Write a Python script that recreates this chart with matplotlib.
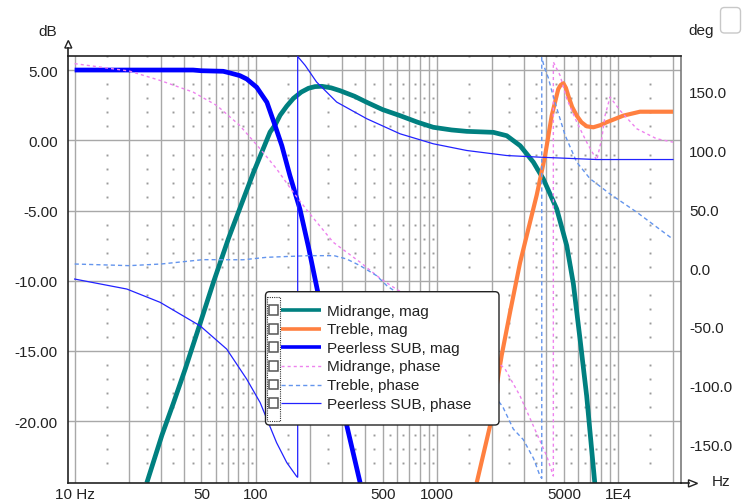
import numpy as np
import matplotlib
matplotlib.use("Agg")
import matplotlib.pyplot as plt
from matplotlib.transforms import Affine2D
from matplotlib.patches import Rectangle, FancyBboxPatch, Polygon
from matplotlib.lines import Line2D

plt.rcParams["font.family"] = ["Liberation Sans", "DejaVu Sans"]
plt.rcParams["axes.unicode_minus"] = False

# ---------------- data ----------------
# Magnitude responses (dB)
mid_mag_f = [25, 30.3, 35.1, 40.7, 48.2, 58.3, 70.5, 78.5, 96.8, 119.7, 127.6, 136, 148, 161,
             178, 195, 212, 231, 260, 291, 350, 409, 500, 624, 780, 952, 1200, 1455, 2042, 2420,
             2868, 3118, 3396, 3850, 4568, 5188, 5640, 6140, 6680, 7430]
mid_mag_db = [-24.4, -21.0, -18.7, -16.3, -13.4, -10.1, -7.0, -5.4, -2.3, 0.6, 1.1, 1.8, 2.45,
              3.0, 3.45, 3.72, 3.84, 3.86, 3.75, 3.55, 3.15, 2.72, 2.2, 1.77, 1.3, 0.94, 0.75,
              0.65, 0.58, 0.34, -0.37, -0.95, -1.55, -2.74, -4.88, -7.5, -10.2, -14.15, -18.2,
              -24.6]

tw_mag_f = [1652, 1960, 2270, 2523, 2867, 3185, 3540, 3936, 4285, 4659, 4800, 4965, 5130, 5290,
            5550, 5888, 6250, 6680, 7270, 8000, 8615, 10640, 13150, 20000]
tw_mag_db = [-24.4, -20.3, -15.3, -12.25, -8.7, -6.3, -3.9, -1.1, 1.77, 3.67, 3.95, 4.08, 3.75,
             3.19, 2.4, 1.77, 1.3, 1.01, 0.94, 1.1, 1.3, 1.77, 2.05, 2.05]

sub_mag_f = [10, 20, 30, 45, 50, 66, 72, 81.6, 89, 101, 115, 127.6, 139, 154, 175, 195, 217, 260,
             317, 376]
sub_mag_db = [5.02, 5.02, 5.02, 5.02, 4.97, 4.93, 4.81, 4.62, 4.38, 3.79, 2.72, 1.05, -0.37, -2.5,
              -4.9, -7.6, -10.5, -15.2, -20.3, -24.4]

# Phase responses (deg), wrapped to +/-180
mid_ph_f = [10, 13.8, 20, 29.6, 45, 60.8, 81.4, 105.5, 130, 160.5, 195, 267, 376, 490, 594, 800,
            1200, 1700, 2370, 2865, 3395, 4022, 4375, 4375, 4764, 5188, 5890, 6680, 7430, 7590,
            8090, 8440, 8990, 10210, 12620, 16230, 20000]
mid_ph_deg = [173.9, 171, 167.6, 159.6, 149.7, 138.3, 121.3, 101.4, 84.4, 64.5, 47.5, 21.9, 4.9,
              -9.4, -17.9, -30, -48, -65, -86, -108.8, -134.4, -160, -177, 175.3, 163.9, 144,
              124.2, 107.1, 94.3, 91.5, 110, 129.8, 145.5, 134, 118.5, 110, 107.1]

tw_ph_f = [10, 20, 30, 51, 85, 114.5, 195, 270, 316, 376, 464, 527, 700, 1000, 1500, 2000, 2300,
           2630, 2985, 3400, 3695, 3776, 3776, 3900, 4100, 4300, 4570, 5077, 5890, 6970, 8990,
           12620, 20000]
tw_ph_deg = [3.4, 2, 3.4, 7.1, 7, 9.1, 10.5, 10.5, 7.7, 2, -6.6, -15, -28, -48, -82, -106, -118,
             -137, -146, -162, -177, -179, 179, 171, 162, 150, 136, 113, 90, 76, 63, 47.5, 24.5]

sub_ph_f = [10, 19.4, 29.6, 49.2, 69, 89, 105.5, 130, 148, 168, 170, 170, 187, 216, 279, 409, 624,
            952, 1455, 2420, 3690, 7590, 20000]
sub_ph_deg = [-9.4, -17.9, -29.2, -49.2, -69, -94.6, -114.5, -148.6, -165.6, -177.5, -178, 180,
              172.4, 158.3, 141.2, 127, 114.2, 105.7, 100, 95.7, 94.3, 92.3, 92.3]

series_names = ["Midrange, mag", "Treble, mag", "Peerless SUB, mag",
                "Midrange, phase", "Treble, phase", "Peerless SUB, phase"]

x_label_ticks = [10, 50, 100, 500, 1000, 5000, 10000]
x_label_text = ["10 Hz", "50", "100", "500", "1000", "5000", "1E4"]
db_ticks = [5, 0, -5, -10, -15, -20]
deg_ticks = [150, 100, 50, 0, -50, -100, -150]

# ---------------- styles ----------------
TEAL = "#008080"
ORANGE = "#ff8040"
BLUE = "#0000ff"
VIOLET = "#ee82ee"
CORNFLOWER = "#6495ed"
SUBPH = "#2222ff"

styles = [
    dict(color=TEAL, lw=3.4, ls="-"),
    dict(color=ORANGE, lw=3.0, ls="-"),
    dict(color=BLUE, lw=3.4, ls="-"),
    dict(color=VIOLET, lw=1.0, ls=(0, (2.2, 2.2))),
    dict(color=CORNFLOWER, lw=1.0, ls=(0, (3, 2.2))),
    dict(color=SUBPH, lw=0.9, ls="-"),
]

W, H, DPI = 744, 502, 100
fig = plt.figure(figsize=(W / DPI, H / DPI), dpi=DPI)
px = Affine2D().scale(1, -1).translate(0, H).scale(1 / W, 1 / H) + fig.transFigure

L, R, T, B = 67.5, 680.7, 57, 484.3
ax = fig.add_axes([L / W, 1 - B / H, (R - L) / W, (B - T) / H])
ax.set_xscale("log")
ax.set_xlim(9.13, 22060)
ax.set_ylim(-24.43, 6.02)

# grid: every 1..9 x decade vertically, every 5 dB horizontally
grid_f = [k * 10 ** n for n in range(1, 5) for k in range(1, 10) if k * 10 ** n <= 20000]
for f in grid_f:
    ax.axvline(f, color="#a8a8a8", lw=1.0, zorder=0.5)
for d in db_ticks:
    ax.axhline(d, color="#a8a8a8", lw=1.0, zorder=0.5)

# dot grid at half-step frequencies and 1 dB levels
dot_f = [(k + 0.5) * 10 ** n for n in range(1, 5) for k in range(1, 10) if (k + 0.5) * 10 ** n <= 20000]
dot_db = [d for d in range(-23, 7) if d % 5 != 0]
DF, DD = np.meshgrid(dot_f, dot_db)
ax.plot(DF.ravel(), DD.ravel(), ls="none", marker="s", ms=1.4, mew=0, color="#9a9a9a", zorder=0.6)

ax.set_xticks(x_label_ticks)
ax.set_xticklabels(x_label_text)
ax.xaxis.set_minor_locator(matplotlib.ticker.NullLocator())
ax.set_yticks(db_ticks)
ax.set_yticklabels([f"{v:.2f}" for v in db_ticks])
ax.tick_params(axis="both", length=0, labelsize=11, colors="#222222")
ax.tick_params(axis="x", pad=3)
ax.tick_params(axis="y", pad=7)

for name, sp in ax.spines.items():
    sp.set_color("#222222" if name != "right" else "#7a7a7a")
    sp.set_linewidth(1.2)

mags = [(mid_mag_f, mid_mag_db), (tw_mag_f, tw_mag_db), (sub_mag_f, sub_mag_db)]
for (f, v), st in zip(mags, styles[:3]):
    ax.plot(f, v, color=st["color"], lw=st["lw"], ls=st["ls"], zorder=2,
            solid_capstyle="butt", solid_joinstyle="round")

ax2 = ax.twinx()
ax2.set_ylim(-183.2, 180.4)
ax2.set_yticks(deg_ticks)
ax2.set_yticklabels([f"{v:.1f}" for v in deg_ticks])
ax2.tick_params(axis="y", length=0, labelsize=11, colors="#222222", pad=6)
for sp in ax2.spines.values():
    sp.set_visible(False)
ax2.patch.set_visible(False)

phases = [(mid_ph_f, mid_ph_deg), (tw_ph_f, tw_ph_deg), (sub_ph_f, sub_ph_deg)]
for (f, v), st in zip(phases, styles[3:]):
    ax2.plot(f, v, color=st["color"], lw=st["lw"], ls=st["ls"], zorder=2)

# axis arrows and unit labels
fig.add_artist(Line2D([L, L], [48.5, T], transform=px, color="#222222", lw=1.2))
fig.add_artist(Polygon([[64.8, 49], [71.8, 49], [68.3, 41.5]], closed=True, transform=px,
                       facecolor="white", edgecolor="#222222", lw=1.0))
fig.add_artist(Line2D([R, 688.5], [B, B], transform=px, color="#222222", lw=1.2))
fig.add_artist(Polygon([[688.5, 480.8], [688.5, 488.0], [697.5, 484.4]], closed=True, transform=px,
                       facecolor="white", edgecolor="#222222", lw=1.0))
fig.text(48, 32, "dB", transform=px, ha="center", va="center", fontsize=11, color="#222222")
fig.text(701.5, 31.5, "deg", transform=px, ha="center", va="center", fontsize=11, color="#222222")
fig.text(721.5, 482, "Hz", transform=px, ha="center", va="center", fontsize=11, color="#222222")
fig.add_artist(FancyBboxPatch((720.5, 8.5), 20, 25.5, boxstyle="round,pad=0,rounding_size=4",
                              transform=px, facecolor="white", edgecolor="#c8c8c8", lw=1.0))

# legend panel
fig.add_artist(FancyBboxPatch((265.5, 292.7), 233.5, 133.3, boxstyle="round,pad=0,rounding_size=4",
                              transform=px, facecolor="white", edgecolor="#222222", lw=1.0,
                              zorder=10))
fig.add_artist(Rectangle((266.8, 298), 13.2, 123.5, transform=px, fill=False, edgecolor="#333333",
                         lw=0.8, ls=(0, (1, 1)), zorder=11))
row0, dy = 311.2, 18.6
for i, (name, st) in enumerate(zip(series_names, styles)):
    yy = row0 + i * dy
    fig.add_artist(Rectangle((268.6, yy - 5), 9.8, 9.8, transform=px, facecolor="white",
                             edgecolor="#555555", lw=1.1, zorder=12))
    fig.add_artist(Line2D([280.5, 320.5], [yy, yy], transform=px, color=st["color"],
                          lw=min(st["lw"], 2.6), ls=st["ls"], zorder=12, solid_capstyle="butt"))
    fig.text(327, yy + 0.5, name, transform=px, ha="left", va="center", fontsize=11,
             color="#222222", zorder=12)

fig.savefig("out.png", dpi=DPI)
